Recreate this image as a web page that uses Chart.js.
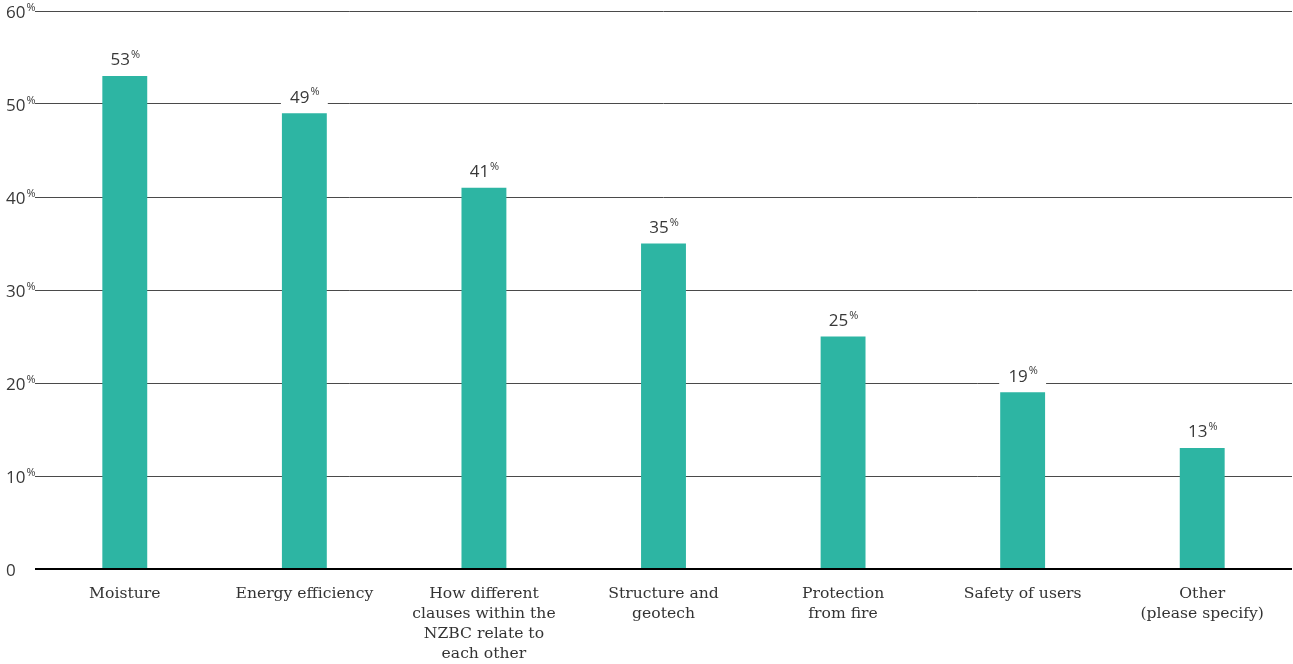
<!DOCTYPE html>
<html>
<head>
<meta charset="utf-8">
<title>NZBC clauses</title>
<script src="https://cdn.jsdelivr.net/npm/chart.js@4/dist/chart.umd.min.js"></script>
<style>
  html, body { margin: 0; padding: 0; background: #fff; }
  #wrap { width: 1293px; height: 664px; position: relative; }
</style>
</head>
<body>
<div id="wrap"><canvas id="c"></canvas></div>
<script>
// Categories (multi-line labels) and percentages
const categories = [
  ['Moisture'],
  ['Energy efficiency'],
  ['How different', 'clauses within the', 'NZBC relate to', 'each other'],
  ['Structure and', 'geotech'],
  ['Protection', 'from fire'],
  ['Safety of users'],
  ['Other', '(please specify)']
];
const values = [53, 49, 41, 35, 25, 19, 13];
const yTicks = [0, 10, 20, 30, 40, 50, 60];

const BAR = '#2db5a3';
const NUM_FONT = '"Open Sans", "Noto Sans", sans-serif';
const TEXT_FONT = '"DejaVu Serif", serif';

// Draws a number followed by a small raised "%" sign
function drawPct(ctx, num, x, y, align, size, withPct) {
  ctx.save();
  ctx.font = '400 ' + size + 'px ' + NUM_FONT;
  ctx.textBaseline = 'middle';
  const w1 = ctx.measureText(num).width;
  ctx.font = '400 ' + Math.round(size * 0.62) + 'px ' + NUM_FONT;
  const w2 = withPct ? ctx.measureText('%').width : 0;
  const total = w1 + w2;
  const left = align === 'center' ? x - total / 2 : x;
  ctx.fillStyle = '#383838';
  ctx.textAlign = 'left';
  ctx.font = '400 ' + size + 'px ' + NUM_FONT;
  ctx.fillText(num, left, y);
  if (withPct) {
    ctx.font = '400 ' + Math.round(size * 0.62) + 'px ' + NUM_FONT;
    ctx.fillText('%', left + w1 + 1, y - size * 0.33);
  }
  ctx.restore();
}

const labelsPlugin = {
  id: 'pctLabels',
  afterDraw(chart) {
    const ctx = chart.ctx;
    const y = chart.scales.y;
    // y-axis tick labels
    yTicks.forEach(v => {
      drawPct(ctx, String(v), 6, y.getPixelForValue(v) + 2, 'left', 17, v !== 0);
    });
  },
  afterDatasetsDraw(chart) {
    const ctx = chart.ctx;
    const meta = chart.getDatasetMeta(0);
    meta.data.forEach((bar, i) => {
      const w = bar.width;
      ctx.save();
      ctx.fillStyle = '#fff';
      ctx.fillRect(bar.x - w / 2 - 1, bar.y - 29, w + 2, 27);
      ctx.restore();
      drawPct(ctx, String(values[i]), bar.x, bar.y - 15.5, 'center', 17, true);
    });
  }
};

new Chart(document.getElementById('c'), {
  type: 'bar',
  data: {
    labels: categories,
    datasets: [{
      data: values,
      backgroundColor: BAR,
      barPercentage: 0.25,
      categoryPercentage: 1
    }]
  },
  options: {
    responsive: true,
    maintainAspectRatio: false,
    animation: false,
    layout: { padding: { left: 35, top: 11, right: 1, bottom: 0 } },
    plugins: { legend: { display: false }, tooltip: { enabled: false } },
    scales: {
      x: {
        grid: { display: false },
        border: { display: false },
        afterFit(scale) { scale.height = 95; },
        ticks: {
          color: '#333',
          font: { family: TEXT_FONT, size: 15.6, lineHeight: 1.28 },
          padding: 7,
          maxRotation: 0,
          autoSkip: false
        }
      },
      y: {
        min: 0,
        max: 60,
        ticks: { display: false, stepSize: 10 },
        border: { display: false },
        grid: {
          drawTicks: false,
          color: ctx => ctx.tick && ctx.tick.value === 0 ? '#000' : '#4a4a4a',
          lineWidth: ctx => ctx.tick && ctx.tick.value === 0 ? 2 : 1
        }
      }
    }
  },
  plugins: [labelsPlugin]
});
</script>
</body>
</html>
